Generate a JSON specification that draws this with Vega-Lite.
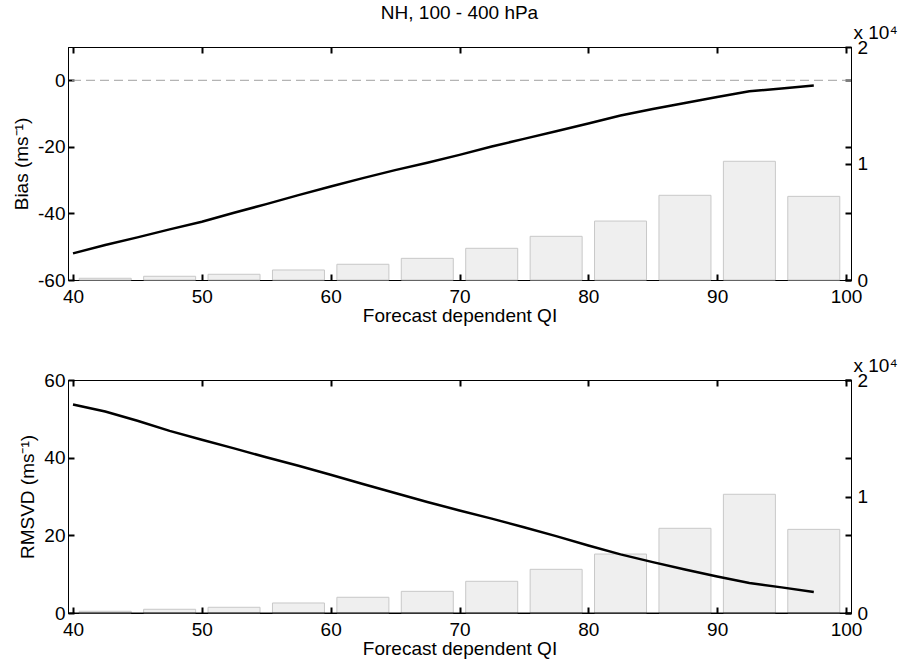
{
  "$schema": "https://vega.github.io/schema/vega-lite/v6.json",
  "padding": {"left": 12, "top": 3, "right": 5, "bottom": 5},
  "background": "white",
  "datasets": {
    "counts": [
      {"QI": 42.5, "n": 150}, {"QI": 47.5, "n": 320}, {"QI": 52.5, "n": 490},
      {"QI": 57.5, "n": 860}, {"QI": 62.5, "n": 1350}, {"QI": 67.5, "n": 1860},
      {"QI": 72.5, "n": 2720}, {"QI": 77.5, "n": 3750}, {"QI": 82.5, "n": 5060},
      {"QI": 87.5, "n": 7270}, {"QI": 92.5, "n": 10190}, {"QI": 97.5, "n": 7180}
    ],
    "stats": [
      {"QI": 40, "bias": -52.0, "rmsvd": 53.7},
      {"QI": 42.5, "bias": -49.5, "rmsvd": 51.9},
      {"QI": 45, "bias": -47.2, "rmsvd": 49.5},
      {"QI": 47.5, "bias": -44.8, "rmsvd": 46.9},
      {"QI": 50, "bias": -42.5, "rmsvd": 44.6},
      {"QI": 52.5, "bias": -39.8, "rmsvd": 42.4},
      {"QI": 55, "bias": -37.2, "rmsvd": 40.1},
      {"QI": 57.5, "bias": -34.5, "rmsvd": 37.9},
      {"QI": 60, "bias": -31.9, "rmsvd": 35.6},
      {"QI": 62.5, "bias": -29.4, "rmsvd": 33.2},
      {"QI": 65, "bias": -27.0, "rmsvd": 30.9},
      {"QI": 67.5, "bias": -24.8, "rmsvd": 28.6},
      {"QI": 70, "bias": -22.4, "rmsvd": 26.4},
      {"QI": 72.5, "bias": -19.9, "rmsvd": 24.3},
      {"QI": 75, "bias": -17.6, "rmsvd": 22.1},
      {"QI": 77.5, "bias": -15.3, "rmsvd": 19.8},
      {"QI": 80, "bias": -13.0, "rmsvd": 17.4},
      {"QI": 82.5, "bias": -10.6, "rmsvd": 15.1},
      {"QI": 85, "bias": -8.6, "rmsvd": 13.1},
      {"QI": 87.5, "bias": -6.8, "rmsvd": 11.2},
      {"QI": 90, "bias": -5.0, "rmsvd": 9.4},
      {"QI": 92.5, "bias": -3.3, "rmsvd": 7.7},
      {"QI": 95, "bias": -2.5, "rmsvd": 6.6},
      {"QI": 97.5, "bias": -1.6, "rmsvd": 5.4}
    ]
  },
  "bounds": "flush",
  "spacing": 100,
  "vconcat": [
    {
      "width": 783,
      "height": 233,
      "title": {"text": "NH, 100 - 400 hPa", "offset": 0, "fontSize": 19, "font": "Liberation Sans", "fontWeight": "normal", "color": "black"},
      "layer": [
        {
          "data": {"name": "counts"},
          "mark": {"type": "bar", "size": 52, "fill": "#efefef", "stroke": "#c8c8c8", "strokeWidth": 1},
          "encoding": {
            "x": {"field": "QI", "type": "quantitative", "scale": {"domain": [40, 100], "nice": false},
                  "axis": {"orient": "bottom", "values": [40, 50, 60, 70, 80, 90, 100], "title": "Forecast dependent QI", "labelPadding": 13, "titlePadding": 0}},
            "y": {"field": "n", "type": "quantitative", "scale": {"domain": [0, 20000], "nice": false},
                  "axis": {"orient": "right", "values": [0, 10000, 20000], "labelExpr": "datum.value / 10000", "labelPadding": 12,
                           "title": "x 10⁴", "titleAngle": 0, "titleAlign": "left", "titleBaseline": "alphabetic", "titleX": 2, "titleY": -9}}
          }
        },
        {
          "data": {"values": [{}]},
          "mark": {"type": "rule", "color": "#a0a0a0", "strokeDash": [9, 5], "strokeWidth": 1},
          "encoding": {
            "y": {"datum": 0, "type": "quantitative", "scale": {"domain": [-60, 10], "nice": false},
                  "axis": {"orient": "right", "values": [-60, -40, -20, 0], "labels": false, "domain": false, "title": null}}
          }
        },
        {
          "data": {"name": "stats"},
          "mark": {"type": "line", "color": "black", "strokeWidth": 2.5},
          "encoding": {
            "x": {"field": "QI", "type": "quantitative", "scale": {"domain": [40, 100], "nice": false},
                  "axis": {"orient": "top", "values": [40, 50, 60, 70, 80, 90, 100], "labels": false, "title": null}},
            "y": {"field": "bias", "type": "quantitative", "scale": {"domain": [-60, 10], "nice": false},
                  "axis": {"orient": "left", "values": [-60, -40, -20, 0], "labelExpr": "datum.value < 0 ? '-' + abs(datum.value) : '' + datum.value", "title": "Bias (ms⁻¹)", "labelPadding": 9, "titlePadding": 6}}
          }
        }
      ],
      "resolve": {"scale": {"y": "independent"}, "axis": {"x": "independent", "y": "independent"}}
    },
    {
      "width": 783,
      "height": 233,
      "layer": [
        {
          "data": {"name": "counts"},
          "mark": {"type": "bar", "size": 52, "fill": "#efefef", "stroke": "#c8c8c8", "strokeWidth": 1},
          "encoding": {
            "x": {"field": "QI", "type": "quantitative", "scale": {"domain": [40, 100], "nice": false},
                  "axis": {"orient": "bottom", "values": [40, 50, 60, 70, 80, 90, 100], "title": "Forecast dependent QI", "labelPadding": 13, "titlePadding": 0}},
            "y": {"field": "n", "type": "quantitative", "scale": {"domain": [0, 20000], "nice": false},
                  "axis": {"orient": "right", "values": [0, 10000, 20000], "labelExpr": "datum.value / 10000", "labelPadding": 12,
                           "title": "x 10⁴", "titleAngle": 0, "titleAlign": "left", "titleBaseline": "alphabetic", "titleX": 2, "titleY": -9}}
          }
        },
        {
          "data": {"values": [{}]},
          "mark": {"type": "rule", "color": "black", "strokeWidth": 1},
          "encoding": {
            "y": {"datum": 0, "type": "quantitative", "scale": {"domain": [0, 60], "nice": false},
                  "axis": {"orient": "right", "values": [0, 20, 40, 60], "labels": false, "domain": false, "title": null}}
          }
        },
        {
          "data": {"name": "stats"},
          "mark": {"type": "line", "color": "black", "strokeWidth": 2.5},
          "encoding": {
            "x": {"field": "QI", "type": "quantitative", "scale": {"domain": [40, 100], "nice": false},
                  "axis": {"orient": "top", "values": [40, 50, 60, 70, 80, 90, 100], "labels": false, "title": null}},
            "y": {"field": "rmsvd", "type": "quantitative", "scale": {"domain": [0, 60], "nice": false},
                  "axis": {"orient": "left", "values": [0, 20, 40, 60], "title": "RMSVD (ms⁻¹)", "labelPadding": 9, "titlePadding": 6}}
          }
        }
      ],
      "resolve": {"scale": {"y": "independent"}, "axis": {"x": "independent", "y": "independent"}}
    }
  ],
  "config": {
    "view": {"stroke": "black", "strokeWidth": 1},
    "axis": {
      "grid": false,
      "domainColor": "black",
      "domainWidth": 1,
      "tickColor": "black",
      "tickSize": -6,
      "tickWidth": 2,
      "labelFont": "Liberation Sans",
      "labelFontSize": 19,
      "labelColor": "black",
      "labelFlush": false,
      "labelOverlap": false,
      "titleFont": "Liberation Sans",
      "titleFontSize": 19,
      "titleFontWeight": "normal",
      "titleColor": "black"
    }
  }
}
